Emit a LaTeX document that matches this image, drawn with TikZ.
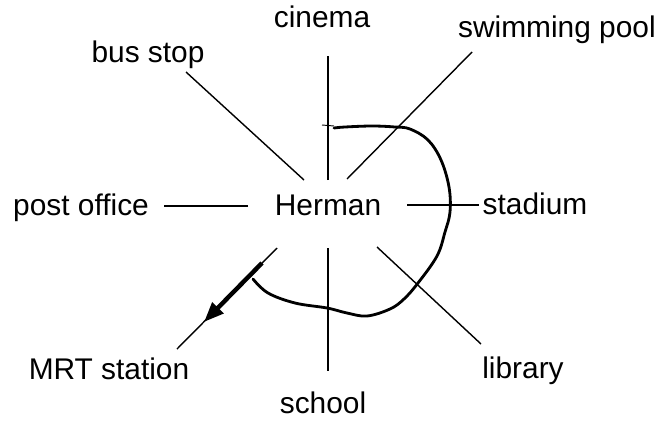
\documentclass[tikz,border=0pt]{standalone}
\usepackage{fontspec}
\setmainfont{Liberation Sans}
\usetikzlibrary{arrows.meta}

\begin{document}
\begin{tikzpicture}[x=0.03cm, y=-0.03cm,
    place/.style={font=\fontsize{25.5}{30}\selectfont, inner sep=0pt, anchor=base},
    spoke/.style={line width=1.2pt, black},
    route/.style={line width=2.4pt, line cap=round, line join=round},
    way/.style={-{Triangle[length=0.6cm, width=0.45cm]}, line width=3.8pt},
]
    \useasboundingbox (0,0) rectangle (657,423);

    \node[place] (herman) at (328,215) {Herman};
    \node[place] (cinema) at (322,28) {cinema};
    \node[place, anchor=base east] (pool) at (656,37) {swimming pool};
    \node[place] (busstop) at (148,62) {bus stop};
    \node[place] (postoffice) at (81,215) {post office};
    \node[place] (stadium) at (535,214) {stadium};
    \node[place] (mrt) at (109,379) {MRT station};
    \node[place] (library) at (523,378) {library};
    \node[place] (school) at (323,413) {school};

    % spoke ends
    \coordinate (cinemaIn) at (328,180);   \coordinate (cinemaOut) at (328,56);
    \coordinate (poolIn) at (347,179);     \coordinate (poolOut) at (472,52);
    \coordinate (busIn) at (304,180);      \coordinate (busOut) at (186,72);
    \coordinate (postIn) at (248,206);     \coordinate (postOut) at (164,206);
    \coordinate (stadiumIn) at (407,205);  \coordinate (stadiumOut) at (479,205);
    \coordinate (mrtIn) at (277,248);      \coordinate (mrtOut) at (177,349);
    \coordinate (schoolIn) at (328,248);   \coordinate (schoolOut) at (328,371);
    \coordinate (libraryIn) at (377,247);  \coordinate (libraryOut) at (481,344);

    \draw[spoke] (cinemaIn) -- (cinemaOut);
    \draw[spoke] (poolIn) -- (poolOut);
    \draw[spoke] (busIn) -- (busOut);
    \draw[spoke] (postIn) -- (postOut);
    \draw[spoke] (stadiumIn) -- (stadiumOut);
    \draw[spoke] (mrtIn) -- (mrtOut);
    \draw[spoke] (schoolIn) -- (schoolOut);
    \draw[spoke] (libraryIn) -- (libraryOut);

    % Herman's way round
    \coordinate (wayFrom) at (262,263);
    \coordinate (wayTo) at (204,322);
    \draw[way] (wayFrom) -- (wayTo);
    \draw[line width=0.8pt] (322,125) -- (334,126);
    \draw[route] plot[smooth, tension=0.6] coordinates {(334,128) (345,127) (372,126) (395,127) (410,129) (428,140) (441,160) (449,187) (450,212) (445,232) (437,256) (418,283) (404,299) (390,309) (367,316) (347,313) (327,308) (295,303) (268,293) (253,279)};
\end{tikzpicture}
\end{document}
